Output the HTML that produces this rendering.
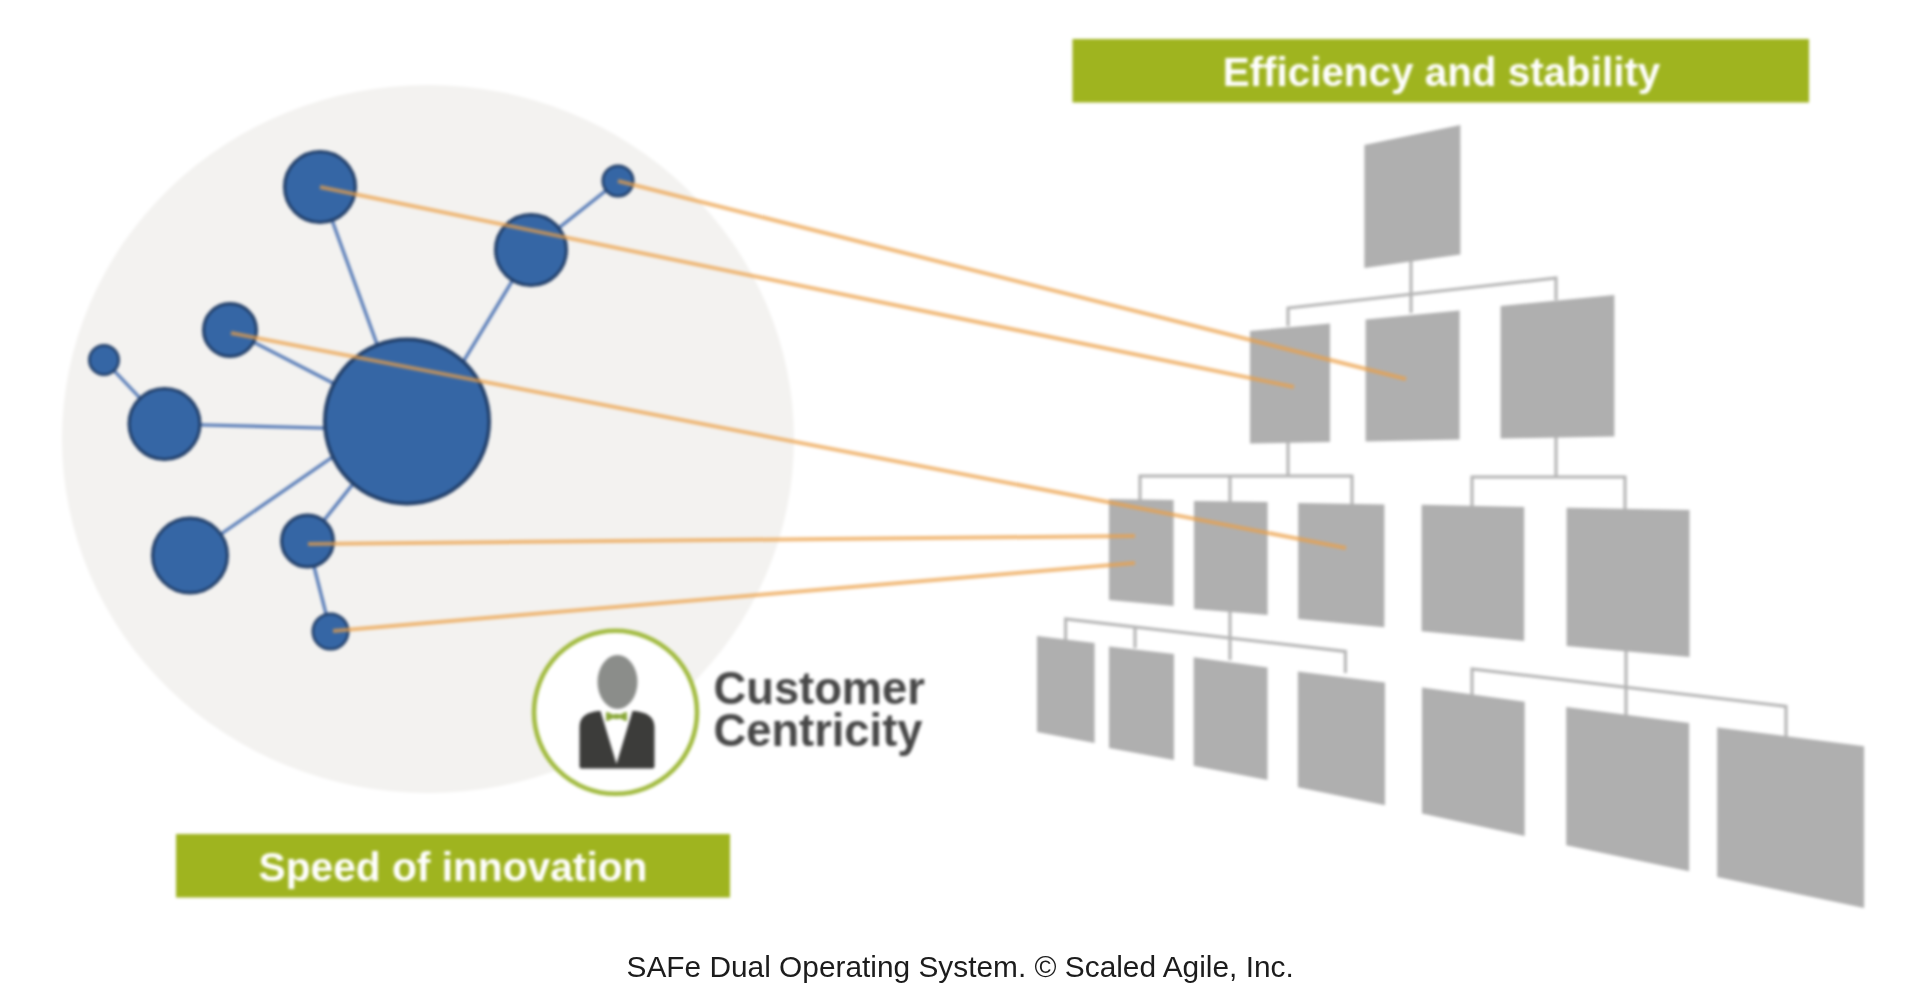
<!DOCTYPE html>
<html><head><meta charset="utf-8"><title>SAFe Dual Operating System</title>
<style>
html,body{margin:0;padding:0;background:#fff;width:1920px;height:1001px;overflow:hidden;}
svg{display:block;}
#w{filter:blur(1.5px);width:1920px;height:1001px;position:absolute;left:0;top:0;}
#f{position:absolute;left:0;top:0;will-change:transform;}
</style></head>
<body>
<div id="w">
<svg width="1920" height="1001" viewBox="0 0 1920 1001">
<rect width="1920" height="1001" fill="#fff"/>
<ellipse cx="428" cy="439" rx="366" ry="354" fill="#f3f2f0"/>
<g fill="none" stroke="#b3b3b3" stroke-width="3">
<path d="M1411 250 V313"/>
<path d="M1288 326 V308 L1556 278 V300"/>
<path d="M1288 440 V476"/>
<path d="M1140 501 V476 H1352 V505"/>
<path d="M1230 476 V503"/>
<path d="M1556 435 V477"/>
<path d="M1472 507 V477 H1625 V510"/>
<path d="M1230 607 V660"/>
<path d="M1065.6 640 V619 L1345.4 651.4 V673"/>
<path d="M1135 627 V648"/>
<path d="M1626 645 V716"/>
<path d="M1472 696 V669 L1786 706.4 V737"/>
</g>
<g fill="#afafaf">
<polygon points="1364.4,145 1460.4,125 1460.4,254.4 1364.4,268"/>
<polygon points="1250,331 1330,323.6 1330,442 1250,443.6"/>
<polygon points="1365.6,319.4 1459.6,310.6 1459.6,439.6 1365.6,441.6"/>
<polygon points="1500.6,306 1614.4,295 1614.4,436.4 1500.6,438.6"/>
<polygon points="1109,499 1173.6,500 1173.6,606 1109,600"/>
<polygon points="1194,501 1267.6,502 1267.6,615 1194,609"/>
<polygon points="1298.2,503 1384.4,504.4 1384.4,627.3 1298.2,619"/>
<polygon points="1421.6,504.7 1524.2,507.1 1524.2,640.9 1421.6,631.3"/>
<polygon points="1566.6,507.8 1689.5,510 1689.5,657 1566.6,646.1"/>
<polygon points="1037,636 1094.6,643 1094.6,743 1037,732"/>
<polygon points="1109,646.4 1174,654 1174,760 1109,748"/>
<polygon points="1193.7,657.2 1267.5,667.5 1267.5,780 1193.7,765.7"/>
<polygon points="1297.9,671.5 1385,682.6 1385,805.3 1297.9,787.3"/>
<polygon points="1422,687.5 1524.7,701.8 1524.7,836 1422,813.5"/>
<polygon points="1566.2,707 1689.1,723.1 1689.1,871.2 1566.2,845.2"/>
<polygon points="1717.2,727.4 1864.1,746.3 1864.1,908 1717.2,877"/>
</g>
<g stroke="#5479b6" stroke-width="3.2" fill="none">
<line x1="320" y1="187" x2="390" y2="380"/>
<line x1="531" y1="250" x2="440" y2="400"/>
<line x1="618" y1="181" x2="531" y2="250"/>
<line x1="230" y1="330" x2="360" y2="397"/>
<line x1="104" y1="360" x2="164.5" y2="424"/>
<line x1="164.5" y1="424" x2="360" y2="429"/>
<line x1="190" y1="555.5" x2="360" y2="438"/>
<line x1="307.5" y1="541" x2="380" y2="450"/>
<line x1="307.5" y1="541" x2="330.5" y2="631.5"/>
</g>
<circle cx="320" cy="187" r="35.5" fill="#3566a5" stroke="#1f3c66" stroke-width="3"/>
<circle cx="531" cy="250" r="35.5" fill="#3566a5" stroke="#1f3c66" stroke-width="3"/>
<circle cx="618" cy="181" r="15.25" fill="#3566a5" stroke="#1f3c66" stroke-width="2.5"/>
<circle cx="230" cy="330" r="26.5" fill="#3566a5" stroke="#1f3c66" stroke-width="3"/>
<circle cx="104" cy="360" r="14.75" fill="#3566a5" stroke="#1f3c66" stroke-width="2.5"/>
<circle cx="164.5" cy="424" r="35.5" fill="#3566a5" stroke="#1f3c66" stroke-width="3"/>
<circle cx="407" cy="421.5" r="82.25" fill="#3566a5" stroke="#1f3c66" stroke-width="3.5"/>
<circle cx="190" cy="555.5" r="37.5" fill="#3566a5" stroke="#1f3c66" stroke-width="3"/>
<circle cx="307.5" cy="541" r="26.0" fill="#3566a5" stroke="#1f3c66" stroke-width="3"/>
<circle cx="330.5" cy="631.5" r="17.75" fill="#3566a5" stroke="#1f3c66" stroke-width="2.5"/>
<g stroke="#eb9f46" stroke-opacity="0.72" stroke-width="4" fill="none">
<line x1="618" y1="181" x2="1406" y2="379"/>
<line x1="320" y1="187" x2="1294" y2="387"/>
<line x1="231" y1="333" x2="1346" y2="548"/>
<line x1="308" y1="544" x2="1135" y2="536"/>
<line x1="333" y1="631" x2="1135" y2="563"/>
</g>
<circle cx="615.5" cy="712.3" r="81.5" fill="#fff" stroke="#a2bb40" stroke-width="4.6"/>
<ellipse cx="617.5" cy="682" rx="20" ry="27" fill="#8b8d8a"/>
<path d="M581.5 768.5 Q579.5 768.5 579.5 766.5 L579.5 727 C579.5 716 588 712 598.5 711 L600.5 711 L616.5 764 L632.5 711 L634.5 711 C645 712 654.5 716 654.5 727 L654.5 766.5 Q654.5 768.5 652.5 768.5 Z" fill="#3c3c3a"/>
<g fill="#8aa83a"><path d="M617 716.5 L607.5 712 Q606 711.5 606 713 L606 720 Q606 721.5 607.5 721 Z"/><path d="M616 716.5 L625.5 712 Q627 711.5 627 713 L627 720 Q627 721.5 625.5 721 Z"/><rect x="613.5" y="714" width="6" height="5" rx="1"/></g>
<rect x="1072.5" y="39" width="736.5" height="63.5" fill="#9fb41f"/>
<rect x="176" y="834" width="554" height="63.5" fill="#9fb41f"/>
<g font-family="Liberation Sans, sans-serif" font-weight="bold">
<text x="1441.5" y="85.7" font-size="40.4" fill="#fff" text-anchor="middle">Efficiency and stability</text>
<text x="453" y="880.7" font-size="40.7" fill="#fff" text-anchor="middle">Speed of innovation</text>
<text x="713.5" y="703.6" font-size="45.3" fill="#474747">Customer</text>
<text x="713.5" y="745.6" font-size="45.3" fill="#474747">Centricity</text>
</g>
</svg>
</div>
<svg id="f" width="1920" height="1001" viewBox="0 0 1920 1001"><text x="626.5" y="976.8" font-family="Liberation Sans, sans-serif" font-size="29.85" fill="#1c1c1c">SAFe Dual Operating System. © Scaled Agile, Inc.</text></svg>
</body></html>
